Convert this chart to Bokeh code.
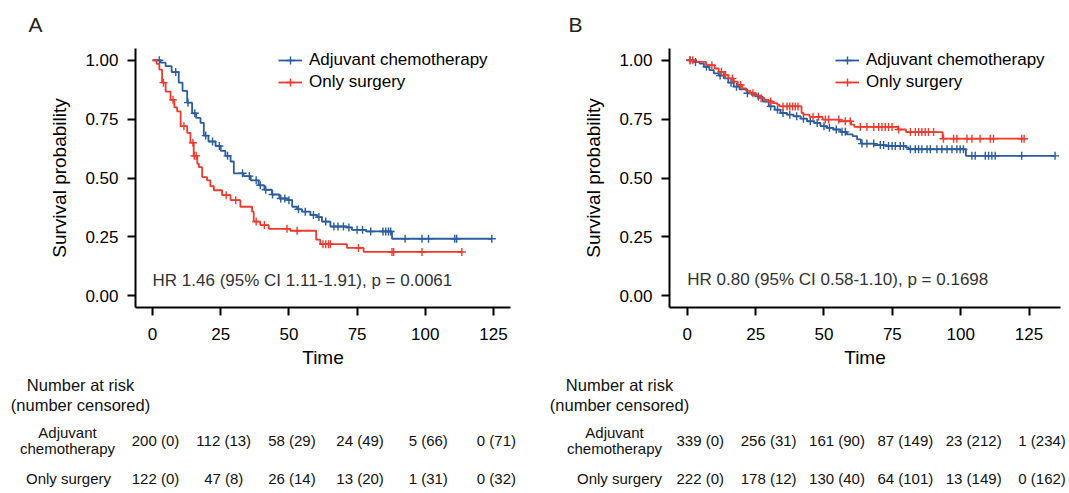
import numpy as np
from bokeh.plotting import figure
from bokeh.models import Range1d, FixedTicker, NumeralTickFormatter, Legend, LegendItem
from bokeh.layouts import row, column
from bokeh.embed import file_html
from bokeh.resources import INLINE
from bokeh.core.properties import value

FONT = "Liberation Sans"
BLUE = "#2B5C9E"
RED = "#EE3B2E"

# ---------------- data: panel A ----------------
A_adj_t = [0, 3.0, 4.8, 7.0, 9.6, 11.0, 12.7, 14.5, 16.0, 17.6, 18.8, 20.5, 23.1, 25.0, 26.7, 28.6, 29.8,
           33.4, 36.0, 38.9, 41.0, 43.8, 46.5, 49.5, 51.2, 53.0, 54.8, 57.9, 60.3, 62.1, 65.2, 71.3, 73.1,
           78.3, 87.8]
A_adj_s = [1.0, 0.99, 0.975, 0.950, 0.905, 0.870, 0.820, 0.775, 0.755, 0.734, 0.680, 0.655, 0.636, 0.615,
           0.594, 0.570, 0.520, 0.508, 0.490, 0.469, 0.450, 0.430, 0.413, 0.406, 0.378, 0.367, 0.357, 0.343,
           0.334, 0.315, 0.294, 0.290, 0.280, 0.273, 0.242]
A_adj_end = 124.4
A_adj_cens = [2.5, 8.5, 13.0, 15.5, 19.5, 22.0, 24.5, 27.5, 33.0, 35.5, 38.0, 39.5, 41.5, 44.0, 47.0, 48.5,
              50.0, 53.5, 56.0, 59.0, 61.0, 63.5, 66.5, 68.0, 70.0, 72.0, 75.0, 77.0, 80.0, 84.5, 85.5,
              86.5, 87.3, 92.6, 98.8, 101.2, 110.8, 111.5, 124.4]

A_sur_t = [0, 1.5, 2.5, 3.5, 4.8, 6.6, 8.0, 9.0, 10.3, 12.7, 13.9, 15.1, 16.4, 17.0, 18.2, 20.0, 21.2, 22.5,
           25.5, 28.6, 32.2, 36.5, 37.1, 39.5, 42.6, 50.5, 60.0, 61.5, 71.3, 77.4]
A_sur_s = [1.0, 0.985, 0.960, 0.905, 0.867, 0.832, 0.800, 0.783, 0.720, 0.692, 0.650, 0.594, 0.560, 0.546,
           0.504, 0.490, 0.465, 0.448, 0.427, 0.406, 0.378, 0.357, 0.315, 0.300, 0.284, 0.276, 0.238,
           0.219, 0.203, 0.186]
A_sur_end = 113.4
A_sur_cens = [4.0, 7.5, 11.5, 14.8, 15.3, 16.0, 27.0, 30.5, 38.0, 41.0, 49.3, 53.0, 62.5, 63.5, 64.5, 65.2,
              75.5, 87.8, 88.4, 98.8, 113.4]

# ---------------- data: panel B ----------------
B_adj_t = [0, 2.0, 4.5, 6.1, 8.1, 9.7, 11.5, 13.4, 15.0, 17.0, 19.1, 21.9, 23.5, 25.6, 27.6, 29.8, 32.0,
           34.1, 36.5, 38.9, 41.5, 43.8, 46.5, 48.7, 51.0, 53.5, 56.0, 58.4, 60.5, 62.1, 63.5, 68.4, 72.7,
           80.0, 81.0, 101.9]
B_adj_s = [1.0, 0.993, 0.986, 0.972, 0.958, 0.944, 0.935, 0.923, 0.905, 0.888, 0.877, 0.860, 0.853, 0.846,
           0.825, 0.804, 0.790, 0.776, 0.769, 0.762, 0.752, 0.741, 0.734, 0.720, 0.713, 0.706, 0.696, 0.685,
           0.678, 0.664, 0.646, 0.640, 0.636, 0.629, 0.622, 0.594]
B_adj_end = 134.5
B_adj_cens = [1.0, 3.0, 7.0, 12.0, 16.0, 18.0, 22.0, 26.0, 30.5, 33.0, 35.0, 37.5, 40.0, 42.5, 45.0, 47.5,
              50.0, 52.0, 54.5, 56.6, 57.8, 63.9, 65.7, 68.2, 70.6, 71.8, 73.6, 74.9, 76.1, 77.9, 79.1,
              81.6, 83.4, 84.6, 85.8, 87.7, 88.9, 91.3, 93.1, 95.0, 96.8, 98.6, 99.8, 101.0, 104.1, 105.3,
              109.0, 110.2, 111.4, 112.6, 122.3, 134.5]

B_sur_t = [0, 3.3, 6.9, 10.0, 11.5, 13.4, 15.0, 17.0, 18.5, 20.1, 21.5, 23.1, 25.0, 26.8, 28.2, 29.8, 31.3,
           32.9, 33.7, 41.8, 42.5, 44.7, 49.5, 55.6, 59.9, 61.1, 77.0, 80.0, 93.4]
B_sur_s = [1.0, 0.993, 0.979, 0.965, 0.951, 0.937, 0.923, 0.909, 0.895, 0.881, 0.870, 0.860, 0.850, 0.839,
           0.832, 0.825, 0.818, 0.811, 0.804, 0.776, 0.769, 0.760, 0.748, 0.741, 0.727, 0.717, 0.706, 0.695,
           0.667]
B_sur_end = 123.2
B_sur_cens = [1.0, 2.0, 9.0, 12.5, 14.0, 16.5, 19.5, 24.0, 27.0, 30.5, 35.0, 36.5, 37.5, 38.5, 39.5, 40.5,
              46.0, 48.0, 50.5, 51.7, 55.4, 57.8, 59.6, 63.3, 65.7, 68.2, 70.0, 71.2, 72.4, 73.6, 74.9, 77.3,
              81.6, 83.4, 84.6, 85.8, 87.0, 88.2, 90.1, 93.7, 97.4, 98.6, 102.3, 104.1, 107.1, 110.8, 112.0,
              122.3, 123.2]

# ---------------- risk tables ----------------
risk_times = [0, 25, 50, 75, 100, 125]
A_adj_risk = ["200 (0)", "112 (13)", "58 (29)", "24 (49)", "5 (66)", "0 (71)"]
A_sur_risk = ["122 (0)", "47 (8)", "26 (14)", "13 (20)", "1 (31)", "0 (32)"]
B_adj_risk = ["339 (0)", "256 (31)", "161 (90)", "87 (149)", "23 (212)", "1 (234)"]
B_sur_risk = ["222 (0)", "178 (12)", "130 (40)", "64 (101)", "13 (149)", "0 (162)"]

group_labels = ["Adjuvant chemotherapy", "Only surgery"]
panel_labels = ["A", "B"]
x_ticks = [0, 25, 50, 75, 100, 125]
y_ticks = [0, 0.25, 0.5, 0.75, 1.0]

A_hr = "HR 1.46 (95% CI 1.11-1.91), p = 0.0061"
B_hr = "HR 0.80 (95% CI 0.58-1.10), p = 0.1698"


def surv_at(ts, ss, t):
    idx = np.searchsorted(np.asarray(ts), np.asarray(t), side="right") - 1
    return np.asarray(ss)[idx]


def header_fig(width, height, label):
    h = figure(width=width, height=height, x_range=Range1d(0, width), y_range=Range1d(height, 0),
               output_backend="svg", toolbar_location=None, min_border=0,
               x_axis_type=None, y_axis_type=None)
    h.grid.visible = False
    h.outline_line_color = None
    h.text(x=[28], y=[24], text=[label], text_font=value(FONT), text_font_size="21px",
           text_baseline="middle", text_align="left", text_color="#222222")
    return h


def km_fig(width, height, bl, br, bt, bb, xr, curves, hr_text, hr_y, legend_xy):
    p = figure(width=width, height=height, x_range=Range1d(*xr), y_range=Range1d(-0.05, 1.05),
               output_backend="svg", toolbar_location=None,
               min_border_left=bl, min_border_right=br, min_border_top=bt, min_border_bottom=bb)
    p.grid.visible = False
    p.outline_line_color = None
    items = []
    for (ts, ss, end, cens, color, lab) in curves:
        xs = list(ts) + [end]
        ys = list(ss) + [ss[-1]]
        l = p.step(x=xs, y=ys, mode="after", line_color=color, line_width=1.8)
        c = p.scatter(x=cens, y=surv_at(ts, ss, cens), marker="cross", size=8,
                      line_color=color, line_width=1.4)
        items.append(LegendItem(label=lab, renderers=[l, c]))
    p.text(x=[0], y=[hr_y], text=[hr_text], text_font=value(FONT), text_font_size="17px",
           text_baseline="middle", text_align="left", text_color="#333333")
    leg = Legend(items=items, location=legend_xy, margin=0, padding=0, spacing=2,
                 glyph_width=24, glyph_height=20, label_height=20, label_standoff=7,
                 label_text_font=FONT, label_text_font_size="17px", label_text_color="black",
                 border_line_color=None, background_fill_alpha=0)
    p.add_layout(leg)

    p.xaxis.ticker = FixedTicker(ticks=x_ticks)
    p.yaxis.ticker = FixedTicker(ticks=y_ticks)
    p.yaxis.formatter = NumeralTickFormatter(format="0.00")
    for ax in (p.xaxis, p.yaxis):
        ax.axis_line_width = 2
        ax.axis_line_color = "black"
        ax.major_tick_line_width = 2
        ax.major_tick_line_color = "black"
        ax.major_tick_out = 8
        ax.major_tick_in = 0
        ax.minor_tick_line_color = None
        ax.major_label_text_font = FONT
        ax.major_label_text_font_size = "17px"
        ax.major_label_text_color = "black"
        ax.axis_label_text_font = FONT
        ax.axis_label_text_font_size = "19px"
        ax.axis_label_text_font_style = "normal"
        ax.axis_label_text_color = "black"
    p.xaxis.axis_label = "Time"
    p.yaxis.axis_label = "Survival probability"
    p.xaxis.major_label_standoff = 12
    p.xaxis.axis_label_standoff = 4
    p.yaxis.major_label_standoff = 9
    p.yaxis.axis_label_standoff = 12
    return p


def table_fig(width, height, xr, adj, sur, val_off, lab_x_adj, lab_x_sur, head_x):
    t = figure(width=width, height=height, x_range=Range1d(*xr), y_range=Range1d(height, 0),
               output_backend="svg", toolbar_location=None, min_border=0,
               x_axis_type=None, y_axis_type=None)
    t.grid.visible = False
    t.outline_line_color = None
    common = dict(text_font=value(FONT), text_baseline="middle", text_align="center", text_color="#111111")
    t.text(x=[head_x, head_x], y=[12, 32], text=["Number at risk", "(number censored)"],
           text_font_size="16.5px", **common)
    t.text(x=[lab_x_adj, lab_x_adj], y=[60, 76], text=["Adjuvant", "chemotherapy"],
           text_font_size="15px", **common)
    t.text(x=[lab_x_sur], y=[106], text=["Only surgery"], text_font_size="15px", **common)
    t.text(x=risk_times, y=[68] * len(risk_times), text=adj, text_font_size="15px", x_offset=val_off, **common)
    t.text(x=risk_times, y=[106] * len(risk_times), text=sur, text_font_size="15px", x_offset=val_off, **common)
    return t


HDR_H = 38
KM_H = 372 - HDR_H
TAB_H = 120

# Panel A geometry
WA, blA, brA, btA = 540, 135, 30, 45 - HDR_H
bbA = KM_H - btA - 262
xrA = (-6.25, 131.25)
scA = (WA - blA - brA) / (xrA[1] - xrA[0])
txrA = (xrA[0] - blA / scA, xrA[1] + brA / scA)

# Panel B geometry
WB, blB, brB, btB = 521, 129, 1, 48 - HDR_H
bbB = KM_H - btB - 262
xrB = (-6.5, 136.5)
scB = (WB - blB - brB) / (xrB[1] - xrB[0])
WBT = 529
txrB = (xrB[0] - blB / scB, xrB[1] + (WBT - blB - (WB - blB - brB)) / scB)

hA = header_fig(WA, HDR_H, panel_labels[0])
hB = header_fig(WBT, HDR_H, panel_labels[1])

pA = km_fig(WA, KM_H, blA, brA, btA, bbA, xrA,
            [(A_adj_t, A_adj_s, A_adj_end, A_adj_cens, BLUE, group_labels[0]),
             (A_sur_t, A_sur_s, A_sur_end, A_sur_cens, RED, group_labels[1])],
            A_hr, 0.063, (143, 215))
pB = km_fig(WB, KM_H, blB, brB, btB, bbB, xrB,
            [(B_adj_t, B_adj_s, B_adj_end, B_adj_cens, BLUE, group_labels[0]),
             (B_sur_t, B_sur_s, B_sur_end, B_sur_cens, RED, group_labels[1])],
            B_hr, 0.068, (166, 215))

tA = table_fig(WA, TAB_H, txrA, A_adj_risk, A_sur_risk, 3,
               txrA[0] + 67 / scA, txrA[0] + 68 / scA, txrA[0] + 80 / scA)
tB = table_fig(WBT, TAB_H, txrB, B_adj_risk, B_sur_risk, 13,
               txrB[0] + 74 / scB, txrB[0] + 79 / scB, txrB[0] + 79 / scB)

layout = column(row(hA, hB), row(pA, pB), row(tA, tB))
open("out.html", "w").write(file_html(layout, INLINE))
